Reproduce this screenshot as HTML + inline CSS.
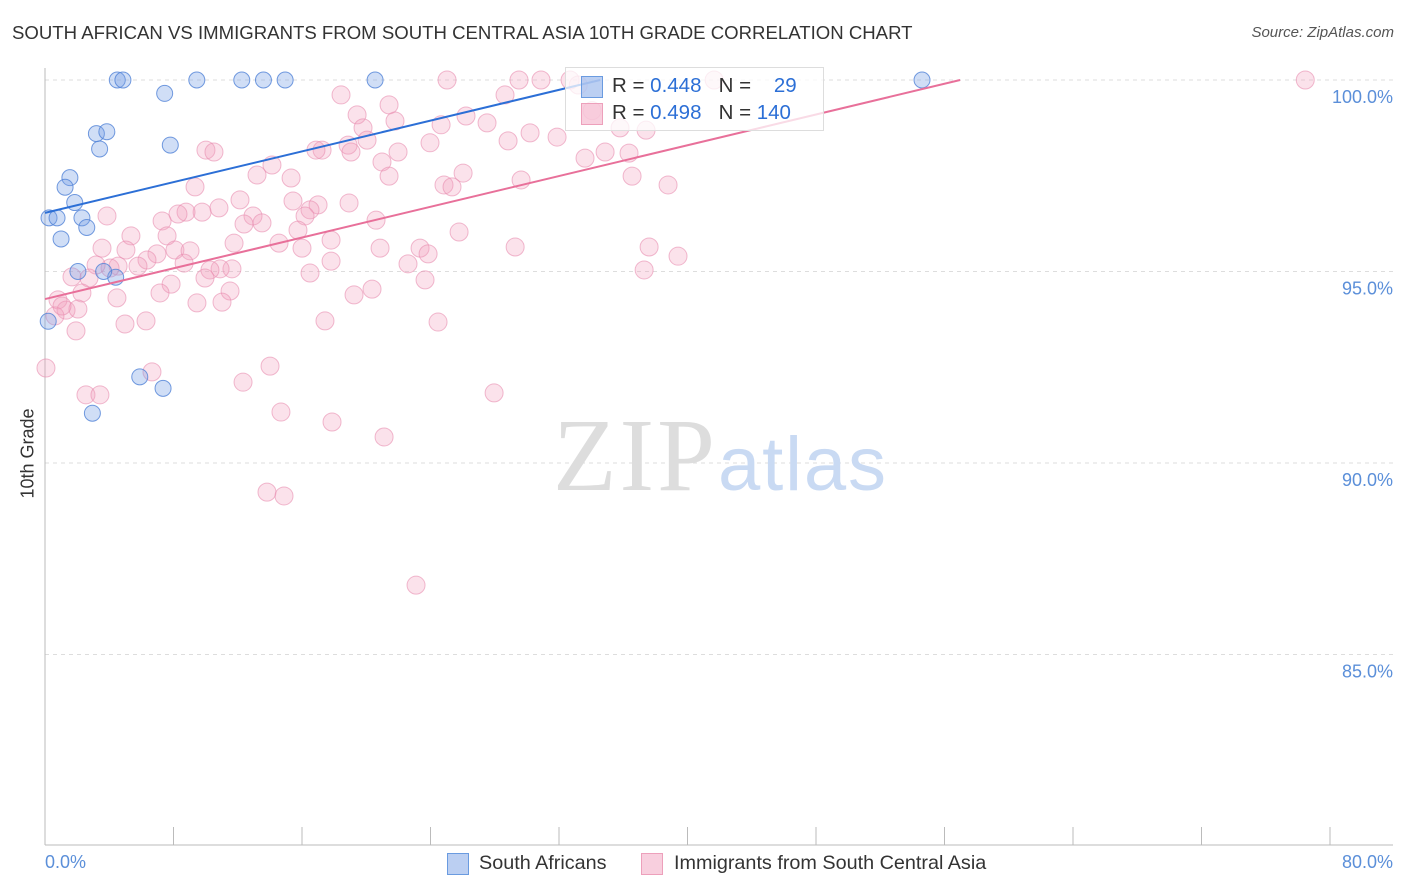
<!DOCTYPE html>
<html><head><meta charset="utf-8">
<style>
body{margin:0;background:#fff;font-family:"Liberation Sans",sans-serif;}
#wrap{position:relative;width:1406px;height:892px;overflow:hidden;}
.t{position:absolute;white-space:nowrap;}
</style></head>
<body>
<div id="wrap">
<div class="t" style="left:12px;top:22px;font-size:18.6px;color:#333;">SOUTH AFRICAN VS IMMIGRANTS FROM SOUTH CENTRAL ASIA 10TH GRADE CORRELATION CHART</div>
<div class="t" style="right:12px;top:24px;font-size:15px;color:#555;font-style:italic;">Source: ZipAtlas.com</div>
<svg id="chart" width="1406" height="892" style="position:absolute;left:0;top:0"></svg>
</div>
<script>
const blueX=[0.25,0.75,4.5,4.85,9.45,12.25,13.6,14.95,20.55,54.6,7.45,3.2,3.85,3.4,7.8,1.55,1.25,1.85,2.3,2.6,1.0,2.05,4.4,3.65,5.9,7.35,2.95,0.2];
const blueY=[96.4,96.4,100,100,100,100,100,100,100,100,99.65,98.6,98.65,98.2,98.3,97.45,97.2,96.8,96.4,96.15,95.85,95.0,94.85,95.0,92.25,91.95,91.3,93.7];
const pinkX=[25.03,29.51,30.88,32.69,41.66,78.46,18.43,28.64,21.42,19.43,26.21,21.79,24.66,27.52,19.80,30.20,35.80,37.42,23.97,28.83,31.88,20.05,18.87,17.25,16.87,19.05,21.98,34.87,36.36,10.02,10.52,33.62,20.98,14.13,13.20,15.32,21.42,26.03,36.55,38.79,29.64,24.84,25.34,9.34,12.14,15.44,17.00,18.93,16.50,16.19,10.83,9.78,8.78,8.28,3.86,7.29,12.95,12.39,13.51,20.61,15.75,25.78,5.35,7.60,11.77,14.57,17.81,3.55,5.04,8.09,9.03,6.97,16.00,20.86,23.35,23.85,29.27,37.61,39.41,6.35,4.55,5.79,4.05,3.18,8.66,11.64,10.90,10.27,17.81,22.60,37.30,16.50,1.68,2.74,9.96,7.85,23.66,7.16,11.52,19.24,20.36,4.48,2.30,9.46,11.02,0.81,1.31,2.05,0.62,4.98,6.29,17.43,24.47,1.93,6.66,14.01,12.33,27.96,2.55,3.42,14.69,17.87,21.11,13.82,14.88,23.10,0.06,1.06,33.2,34.06];
const pinkY=[100,100,100,100,100,100,99.61,99.61,99.35,99.09,99.06,98.93,98.83,98.88,98.75,98.62,98.75,98.69,98.36,98.41,98.51,98.43,98.30,98.17,98.17,98.12,98.12,98.12,98.09,98.17,98.12,97.96,97.86,97.78,97.52,97.44,97.49,97.57,97.49,97.26,97.39,97.26,97.21,97.21,96.87,96.84,96.74,96.79,96.61,96.45,96.66,96.55,96.55,96.50,96.45,96.32,96.45,96.24,96.27,96.34,96.08,96.03,95.93,95.93,95.74,95.74,95.82,95.61,95.56,95.56,95.54,95.46,95.61,95.61,95.61,95.46,95.64,95.64,95.40,95.30,95.14,95.14,95.09,95.17,95.22,95.07,95.07,95.04,95.27,95.20,95.04,94.96,94.86,94.83,94.83,94.67,94.78,94.44,94.49,94.39,94.54,94.31,94.44,94.18,94.20,94.26,93.99,94.02,93.84,93.63,93.71,93.71,93.68,93.45,92.38,92.53,92.11,91.83,91.78,91.78,91.33,91.07,90.68,89.24,89.14,86.81,92.48,94.1,99.87,99.2];
const blueTrend=[96.53,0.1004];
const pinkTrend=[94.28,0.1004];
const yTicks=[100,95,90,85];
const yTickLabels=["100.0%","95.0%","90.0%","85.0%"];
const xTicks=[0,8,16,24,32,40,48,56,64,72,80];

const svg=document.getElementById('chart');
const NS='http://www.w3.org/2000/svg';
const X=v=>45+v*(1285/80);
const Y=v=>80+(100-v)*38.3;
function mk(tag,attrs,parent){const e=document.createElementNS(NS,tag);for(const k in attrs)e.setAttribute(k,attrs[k]);(parent||svg).appendChild(e);return e;}

yTicks.forEach((t,i)=>{
  const g=mk('line',{x1:45,x2:1393,y1:Y(t),y2:Y(t),stroke:'#ddd','stroke-dasharray':'4,4'});
  
  
  const l=mk('text',{x:1393,y:Y(t)+23,'text-anchor':'end','font-size':18,fill:'#5b8fd9','font-family':'Liberation Sans'});
  l.textContent=yTickLabels[i];
  
  
});
const ax=mk('line',{x1:45,x2:1393,y1:845,y2:845,stroke:'#bbb'});


const ay=mk('line',{x1:45,x2:45,y1:68,y2:845,stroke:'#bbb'});


xTicks.forEach(t=>{
  const k=mk('line',{x1:X(t),x2:X(t),y1:827,y2:845,stroke:'#bbb'});
  
  
});

const wm=mk('text',{x:553,y:490,'font-size':104,fill:'#ddd','font-family':'Liberation Serif',textLength:162});
wm.textContent='ZIP';


const wm2=mk('text',{x:718,y:490,'font-size':76,fill:'#c9daf3','font-family':'Liberation Sans',textLength:168});
wm2.textContent='atlas';



pinkX.forEach((x,i)=>{
  const c=mk('circle',{cx:X(x),cy:Y(pinkY[i]),r:9,fill:'rgba(242,160,190,0.3)',stroke:'rgba(232,140,175,0.6)','stroke-width':1});
  
  
});
blueX.forEach((x,i)=>{
  const c=mk('circle',{cx:X(x),cy:Y(blueY[i]),r:8,fill:'rgba(120,160,230,0.35)',stroke:'rgba(80,130,215,0.8)','stroke-width':1});
  
  
});
const bx2=(100-blueTrend[0])/blueTrend[1];
const bl=mk('line',{x1:X(0),y1:Y(blueTrend[0]),x2:X(bx2),y2:Y(100),stroke:'#2c6fd6','stroke-width':2});


const px2=(100-pinkTrend[0])/pinkTrend[1];
const pl=mk('line',{x1:X(0),y1:Y(pinkTrend[0]),x2:X(px2),y2:Y(100),stroke:'#e8709a','stroke-width':2});


</script>
<div class="t" style="left:565px;top:67px;width:257px;height:62px;border:1px solid #ddd;background:rgba(255,255,255,0.75);"></div>
<div class="t" style="left:581px;top:76px;width:20px;height:20px;background:rgba(120,160,230,0.5);border:1px solid #6a9be0;"></div>
<div class="t" style="left:581px;top:103px;width:20px;height:20px;background:rgba(242,160,190,0.5);border:1px solid #eda0bb;"></div>
<div class="t" style="left:612px;top:74px;font-size:20.5px;color:#333;">R = <span style="color:#2c6fd6">0.448</span>&nbsp;&nbsp;&nbsp;N = &nbsp;&nbsp;&nbsp;<span style="color:#2c6fd6">29</span></div>
<div class="t" style="left:612px;top:101px;font-size:20.5px;color:#333;">R = <span style="color:#2c6fd6">0.498</span>&nbsp;&nbsp;&nbsp;N = <span style="color:#2c6fd6">140</span></div>
<div class="t" style="left:-20px;top:443px;width:96px;text-align:center;font-size:18px;color:#333;transform:rotate(-90deg);">10th Grade</div>
<div class="t" style="left:45px;top:852px;font-size:18px;color:#5b8fd9;">0.0%</div>
<div class="t" style="right:13px;top:852px;font-size:18px;color:#5b8fd9;">80.0%</div>
<div class="t" style="left:447px;top:853px;width:20px;height:20px;background:rgba(120,160,230,0.5);border:1px solid #6a9be0;"></div>
<div class="t" style="left:479px;top:852px;font-size:19.8px;color:#333;">South Africans</div>
<div class="t" style="left:641px;top:853px;width:20px;height:20px;background:rgba(242,160,190,0.5);border:1px solid #eda0bb;"></div>
<div class="t" style="left:674px;top:852px;font-size:19.8px;color:#333;">Immigrants from South Central Asia</div>
</body></html>
